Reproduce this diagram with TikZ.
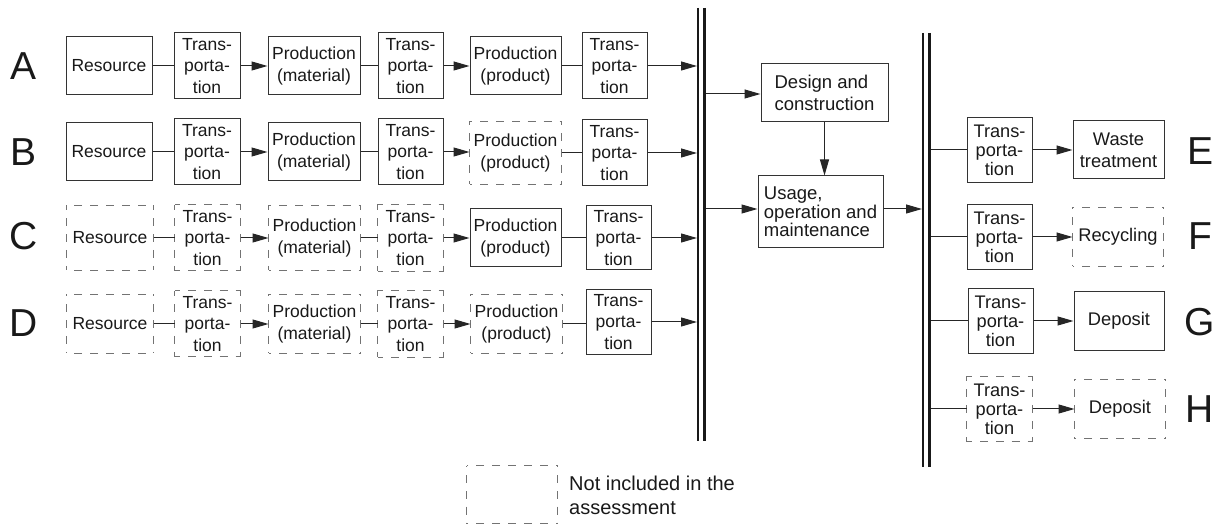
\documentclass[tikz,border=0pt]{standalone}
\usepackage{fontspec}
\setmainfont{Liberation Sans}
\usetikzlibrary{arrows.meta}
\tikzset{
 x=1pt,y=-1pt,
 bx/.style={draw=black!80, line width=1pt, inner sep=0pt, align=center, font=\fontsize{17.5}{21.5}\selectfont, text=black!90},
 dbx/.style={bx, draw=none},
 rbx/.style={bx, font=\fontsize{18.3}{21.7}\selectfont},
 rtr/.style={bx, font=\fontsize{18.2}{19}\selectfont},
 drbx/.style={rbx, draw=none},
 drtr/.style={rtr, draw=none},
 dsh/.style={draw=black!55, line width=1pt, dash pattern=on 8pt off 8pt, dash phase=4pt},
 ln/.style={draw=black!85, line width=1pt},
 ar/.style={ln, -{Triangle[length=16pt,width=9pt]}},
 barln/.style={line width=2.2pt, draw=black!90},
 lbl/.style={font=\fontsize{39}{39}\selectfont, text=black!90},
}
\newcommand\mydashedbox[1]{%
 \draw[dsh] (#1.west) -- (#1.north west);
 \draw[dsh] (#1.west) -- (#1.south west);
 \draw[dsh] (#1.east) -- (#1.north east);
 \draw[dsh] (#1.east) -- (#1.south east);
 \draw[dsh] (#1.north) -- (#1.north west);
 \draw[dsh] (#1.north) -- (#1.north east);
 \draw[dsh] (#1.south) -- (#1.south west);
 \draw[dsh] (#1.south) -- (#1.south east);
}
\begin{document}
\begin{tikzpicture}
\useasboundingbox (0,0) rectangle (1221,526);
% ---------- labels
\node[lbl] (LA) at (24,66) {A};
\node[lbl] (LB) at (24,152) {B};
\node[lbl] (LC) at (24,236) {C};
\node[lbl] (LD) at (24,323) {D};
\node[lbl] (LE) at (1200,151) {E};
\node[lbl] (LF) at (1200,236) {F};
\node[lbl] (LG) at (1200,322) {G};
\node[lbl] (LH) at (1200,409) {H};
% ---------- row A
\node[bx, minimum width=86pt, minimum height=58pt] (resA) at (109,66) {Resource};
\node[bx, minimum width=66pt, minimum height=66pt] (t1A) at (207,66) {Trans-\\porta-\\tion};
\node[bx, minimum width=92pt, minimum height=58pt] (pmA) at (314,66) {Production\\(material)};
\node[bx, minimum width=65pt, minimum height=66pt] (t2A) at (410.5,66) {Trans-\\porta-\\tion};
\node[bx, minimum width=91pt, minimum height=58pt] (ppA) at (515.5,66) {Production\\(product)};
\node[bx, minimum width=65pt, minimum height=66pt] (t3A) at (614.5,66) {Trans-\\porta-\\tion};
% ---------- row B
\node[bx, minimum width=86pt, minimum height=58pt] (resB) at (109,152) {Resource};
\node[bx, minimum width=66pt, minimum height=66pt] (t1B) at (207,152) {Trans-\\porta-\\tion};
\node[bx, minimum width=92pt, minimum height=58pt] (pmB) at (314,152) {Production\\(material)};
\node[bx, minimum width=65pt, minimum height=66pt] (t2B) at (410.5,152) {Trans-\\porta-\\tion};
\node[dbx, minimum width=91pt, minimum height=62pt] (ppB) at (515.5,153) {Production\\(product)};
\node[bx, minimum width=65pt, minimum height=66pt] (t3B) at (614.5,153) {Trans-\\porta-\\tion};
% ---------- row C
\node[dbx, minimum width=86pt, minimum height=64pt] (resC) at (110,238) {Resource};
\node[dbx, minimum width=65pt, minimum height=65pt] (t1C) at (207.5,238) {Trans-\\porta-\\tion};
\node[dbx, minimum width=91pt, minimum height=64pt] (pmC) at (314.5,238) {Production\\(material)};
\node[dbx, minimum width=65pt, minimum height=66pt] (t2C) at (410.5,238) {Trans-\\porta-\\tion};
\node[bx, minimum width=91pt, minimum height=58pt] (ppC) at (515.5,238) {Production\\(product)};
\node[bx, minimum width=65pt, minimum height=64pt] (t3C) at (618.5,238) {Trans-\\porta-\\tion};
% ---------- row D
\node[dbx, minimum width=86pt, minimum height=58pt] (resD) at (110,324) {Resource};
\node[dbx, minimum width=65pt, minimum height=65pt] (t1D) at (207.5,324) {Trans-\\porta-\\tion};
\node[dbx, minimum width=91pt, minimum height=58pt] (pmD) at (314.5,324) {Production\\(material)};
\node[dbx, minimum width=65pt, minimum height=66pt] (t2D) at (410.5,324) {Trans-\\porta-\\tion};
\node[dbx, minimum width=91pt, minimum height=58pt] (ppD) at (516.5,324) {Production\\(product)};
\node[bx, minimum width=65pt, minimum height=65pt] (t3D) at (618.5,322) {Trans-\\porta-\\tion};
\foreach \n in {ppB,resC,t1C,pmC,t2C,resD,t1D,pmD,t2D,ppD}{\mydashedbox{\n}}
% ---------- bars
\coordinate (b1t) at (698,8);   \coordinate (b1b) at (698,441);
\coordinate (b2t) at (704.5,8); \coordinate (b2b) at (704.5,441);
\coordinate (c1t) at (923,33);  \coordinate (c1b) at (923,467);
\coordinate (c2t) at (929.5,33);\coordinate (c2b) at (929.5,467);
\draw[barln] (b1t) -- (b1b);
\draw[barln] (b2t) -- (b2b);
\draw[barln] (c1t) -- (c1b);
\draw[barln] (c2t) -- (c2b);
% ---------- row connectors
\foreach \r/\y in {A/66,B/153,C/238,D/322}{
  \coordinate (bar\r) at (697,\y);
  \draw[ln] (res\r) -- (res\r.east -| t1\r.west);
  \draw[ar] (t1\r) -- (t1\r.east -| pm\r.west);
  \draw[ln] (pm\r) -- (pm\r.east -| t2\r.west);
  \draw[ar] (t2\r) -- (t2\r.east -| pp\r.west);
  \draw[ln] (pp\r) -- (pp\r.east -| t3\r.west);
  \draw[ar] (t3\r.east |- bar\r) -- (bar\r);
}
% ---------- middle
\node[rbx, align=left, font=\fontsize{18.5}{22.3}\selectfont, minimum width=127pt, minimum height=58pt] (design) at (824.5,93) {Design and\\construction};
\node[rbx, align=left, font=\fontsize{18.5}{18.5}\selectfont, minimum width=125pt, minimum height=72pt] (usage) at (820.5,212) {Usage,\\operation and\\maintenance};
\coordinate (mi1) at (705.5,94);
\coordinate (mi2) at (705.5,209);
\coordinate (mo) at (922,209);
\draw[ar] (mi1) -- (mi1 -| design.west);
\draw[ar] (mi2) -- (mi2 -| usage.west);
\draw[ar] (mo -| usage.east) -- (mo);
\draw[ar] (design.south) -- (design.south |- usage.north);
% ---------- right side
\node[rtr, minimum width=65pt, minimum height=65pt] (tE) at (999.5,150) {Trans-\\porta-\\tion};
\node[rbx, minimum width=91pt, minimum height=58pt] (wE) at (1118.5,150) {Waste\\treatment};
\node[rtr, minimum width=65pt, minimum height=65pt] (tF) at (999.5,237) {Trans-\\porta-\\tion};
\node[drbx, minimum width=90pt, minimum height=58pt] (rF) at (1118,237) {Recycling};
\node[rtr, minimum width=65pt, minimum height=65pt] (tG) at (1000.5,321) {Trans-\\porta-\\tion};
\node[rbx, minimum width=90pt, minimum height=59pt] (dG) at (1119,321) {Deposit};
\node[drtr, minimum width=65pt, minimum height=64pt] (tH) at (999.5,409) {Trans-\\porta-\\tion};
\node[drbx, minimum width=90pt, minimum height=58pt] (dH) at (1120,409) {Deposit};
\foreach \n in {rF,tH,dH}{\mydashedbox{\n}}
\foreach \r/\y in {E/150,F/237,G/321,H/409}{
  \coordinate (rb\r) at (930.5,\y);
  \draw[ln] (rb\r) -- (rb\r -| t\r.west);
}
\draw[ar] (tE) -- (wE);
\draw[ar] (tF) -- (rF);
\draw[ar] (tG) -- (dG);
\draw[ar] (tH) -- (dH);
% ---------- legend
\node[dbx, minimum width=90pt, minimum height=57pt] (leg) at (512,494.5) {};
\mydashedbox{leg}
\node[anchor=west, align=left, inner sep=0pt, font=\fontsize{20}{24}\selectfont, text=black!90] (legt) at (569,495) {Not included in the\\assessment};
\end{tikzpicture}
\end{document}
